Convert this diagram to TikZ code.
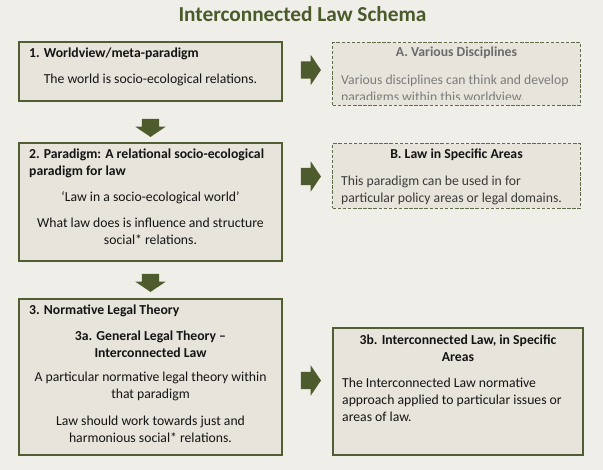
\documentclass[tikz,border=0pt]{standalone}
\usepackage{fontspec}
\setmainfont{Carlito}
\usetikzlibrary{shapes.arrows}
\definecolor{pagebg}{HTML}{EFEEE9}
\definecolor{boxfill}{HTML}{E7E4DB}
\definecolor{lawgreen}{HTML}{515E33}
\definecolor{arrowgreen}{HTML}{4E5B2D}
\definecolor{dashgreen}{HTML}{5F6C4A}
\definecolor{titlegreen}{HTML}{4A5A2A}
\definecolor{mutedtext}{HTML}{7B7B7B}
\definecolor{mutedhead}{HTML}{6B6B6B}
\definecolor{softtext}{HTML}{3A3A3A}
\definecolor{bodytext}{HTML}{141414}
\begin{document}
\begin{tikzpicture}[x=1pt,y=-1pt,
    solidbox/.style={draw=lawgreen,line width=2.4pt,fill=boxfill,inner sep=0pt},
    dashbox/.style={draw=dashgreen,line width=1.3pt,dash pattern=on 3.5pt off 1.6pt,fill=boxfill,inner sep=0pt},
    txt/.style={font=\fontsize{13.7}{17}\selectfont,text=bodytext,inner sep=0pt},
    head/.style={txt,font=\fontsize{13.7}{17}\selectfont\bfseries},
    blockarrow/.style={single arrow,fill=arrowgreen,inner sep=0pt,text height=17pt,text depth=0pt,
        single arrow head extend=6.5pt,single arrow tip angle=112,minimum height=20pt}]
    \fill[pagebg] (0,0) rectangle (603,470);
    \node[font=\fontsize{21.3}{25}\selectfont\bfseries,text=titlegreen] (title) at (302.5,14.5) {Interconnected Law Schema};
    % left column
    \node[solidbox,minimum width=262.6pt,minimum height=58.6pt] (worldview) at (150.5,71.5) {};
    \node[solidbox,minimum width=262.6pt,minimum height=117.6pt] (paradigm) at (150.5,202) {};
    \node[solidbox,minimum width=262.6pt,minimum height=155.6pt] (theory) at (150.5,377) {};
    % right column
    \node[dashbox,minimum width=247.7pt,minimum height=62.7pt] (disciplines) at (456.5,74) {};
    \node[dashbox,minimum width=247.7pt,minimum height=64.7pt] (areas) at (456.5,176) {};
    \node[solidbox,minimum width=249.6pt,minimum height=126.6pt] (specific) at (458,391.5) {};
    % block arrows
    \node[blockarrow] (wv2disc) at (308,70) {};
    \node[blockarrow] (par2areas) at (308,176.5) {};
    \node[blockarrow] (th2spec) at (308,380.5) {};
    \node[blockarrow,minimum height=18pt,rotate=-90] (wv2par) at (150.5,125) {};
    \node[blockarrow,minimum height=18pt,rotate=-90] (par2th) at (150.5,280) {};
    % texts, box 1
    \node[head,anchor=west] (wvhead) at (29,54) {1. Worldview/meta-paradigm};
    \node[txt] (wvbody) at (150.5,80) {The world is socio-ecological relations.};
    % box A
    \node[head,text=mutedhead] (dischead) at (456.5,53) {A. Various Disciplines};
    \begin{scope}
        \clip (334,40) rectangle (580,100);
        \node[txt,text=mutedtext,align=left,anchor=west] (discbody) at (341,89.5)
            {Various disciplines can think and develop\\paradigms within this worldview.};
    \end{scope}
    % box 2
    \node[head,align=left,anchor=west] (parhead) at (29,163.5)
        {2. Paradigm: A relational socio-ecological\\paradigm for law};
    \node[txt] (parquote) at (150.5,198) {‘Law in a socio-ecological world’};
    \node[txt,align=center] (parbody) at (150.5,231.5)
        {What law does is influence and structure\\social* relations.};
    % box B
    \node[head,text=bodytext] (areashead) at (456.5,155) {B. Law in Specific Areas};
    \node[txt,text=softtext,align=left,anchor=west] (areasbody) at (341,190)
        {This paradigm can be used in for\\particular policy areas or legal domains.};
    % box 3
    \node[head,anchor=west] (thhead) at (29,311) {3. Normative Legal Theory};
    \node[head,align=center] (thsub) at (150.5,344.5) {3a. General Legal Theory --\\Interconnected Law};
    \node[txt,align=center] (thbody) at (150.5,386.5)
        {A particular normative legal theory within\\that paradigm};
    \node[txt,align=center] (thaim) at (150.5,429.5)
        {Law should work towards just and\\harmonious social* relations.};
    % box 3b
    \node[head,align=center] (spechead) at (458,348.5) {3b. Interconnected Law, in Specific\\Areas};
    \node[txt,align=left,anchor=west] (specbody) at (342,399.5)
        {The Interconnected Law normative\\approach applied to particular issues or\\areas of law.};
\end{tikzpicture}
\end{document}
